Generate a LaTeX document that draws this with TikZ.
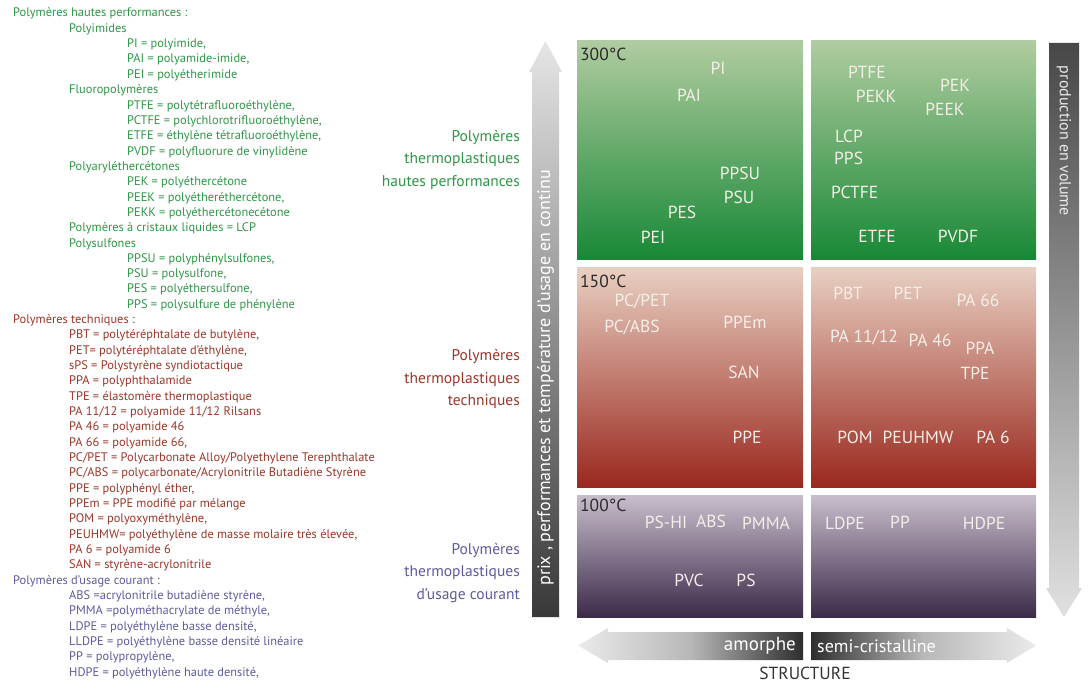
\documentclass[tikz,border=0pt]{standalone}
\usepackage{fontspec}
\setmainfont{PT Sans}
\definecolor{cg}{HTML}{2E9646}
\definecolor{cr}{HTML}{9A3628}
\definecolor{cp}{HTML}{5C5A9E}
\definecolor{gtop}{HTML}{B0CCA0}
\definecolor{gbot}{HTML}{188836}
\definecolor{rtop}{HTML}{E8D0C2}
\definecolor{rbot}{HTML}{9A281E}
\definecolor{ptop}{HTML}{C8BECB}
\definecolor{pbot}{HTML}{3C2A4A}
\definecolor{lab}{HTML}{F4EEE8}
\definecolor{tmp}{HTML}{2A2A2A}
\tikzset{
  lst/.style={anchor=west, inner sep=0pt, text height=9pt, text depth=3pt, font=\fontsize{12.4}{14}\selectfont},
  grp/.style={anchor=east, inner sep=0pt, align=right, font=\fontsize{15.5}{22.5}\selectfont},
  lbl/.style={inner sep=0pt, text=lab, font=\fontsize{17.5}{19}\selectfont},
  temp/.style={anchor=west, inner sep=0pt, text=tmp, font=\fontsize{17.5}{19}\selectfont},
  axtxt/.style={inner sep=0pt, font=\fontsize{18}{20}\selectfont},
}
\begin{document}
\begin{tikzpicture}[x=1pt,y=-1pt]
\useasboundingbox (0,0) rectangle (1089,685);
% ---- boxes
\shade[top color=gtop,bottom color=gbot] (577,41) rectangle (803,259);
\shade[top color=gtop,bottom color=gbot] (811,41) rectangle (1036,259);
\shade[top color=rtop,bottom color=rbot] (577,267) rectangle (803,487);
\shade[top color=rtop,bottom color=rbot] (811,267) rectangle (1036,487);
\shade[top color=ptop,bottom color=pbot] (577,495) rectangle (803,617);
\shade[top color=ptop,bottom color=pbot] (811,495) rectangle (1036,617);
% ---- arrows
\shade[top color=black!10,bottom color=black!78] (532,617) -- (532,72) -- (529,72) -- (545.5,41) -- (562,72) -- (559,72) -- (559,617) -- cycle;
\shade[top color=black!72,bottom color=black!12] (1049,43) -- (1079,43) -- (1079,588) -- (1082,588) -- (1064,617) -- (1046,588) -- (1049,588) -- cycle;
\shade[left color=black!8,right color=black!82,middle color=black!28] (803,632) -- (608,632) -- (608,628) -- (578,645.5) -- (608,663) -- (608,660) -- (803,660) -- cycle;
\shade[left color=black!82,right color=black!8,middle color=black!28] (811,632) -- (1007,632) -- (1007,628) -- (1036,645.5) -- (1007,663) -- (1007,660) -- (811,660) -- cycle;
% ---- axis texts
\node[axtxt, rotate=90, text=white] (axprix) at (545.5,378) {prix , performances et température d’usage en continu};
\node[axtxt, rotate=-90, text=black!8, font=\fontsize{16}{18}\selectfont] (axprod) at (1064,141) {production en volume};
\node[axtxt, anchor=east, text=white, font=\fontsize{19}{20}\selectfont] (amor) at (796,646) {amorphe};
\node[axtxt, anchor=west, text=white] (semi) at (817,646) {semi-cristalline};
\node[axtxt, text=black!80, font=\fontsize{17.5}{19}\selectfont] (struct) at (805,673) {STRUCTURE};
% ---- group labels
\node[grp, text=cg] (ghp) at (520,159.5) {Polymères\\thermoplastiques\\hautes performances};
\node[grp, text=cr] (gtech) at (520,379) {Polymères\\thermoplastiques\\techniques};
\node[grp, text=cp] (gcour) at (520,573) {Polymères\\thermoplastiques\\d’usage courant};
% ---- temperatures
\node[temp] (t300) at (580,54) {300°C};
\node[temp] (t150) at (580,281) {150°C};
\node[temp] (t100) at (580,505) {100°C};
% ---- top-left
\node[lbl] (bPI) at (718,68) {PI};
\node[lbl] (bPAI) at (689,95) {PAI};
\node[lbl] (bPPSU) at (740,173) {PPSU};
\node[lbl] (bPSU) at (739,197) {PSU};
\node[lbl] (bPES) at (682,212) {PES};
\node[lbl] (bPEI) at (653,237) {PEI};
% ---- top-right
\node[lbl] (bPTFE) at (867,72) {PTFE};
\node[lbl] (bPEKK) at (876,96) {PEKK};
\node[lbl] (bPEK) at (955,85) {PEK};
\node[lbl] (bPEEK) at (945,109) {PEEK};
\node[lbl, anchor=west] (bLCP) at (835,136) {LCP};
\node[lbl, anchor=west] (bPPS) at (834,158) {PPS};
\node[lbl, anchor=west] (bPCTFE) at (831,192) {PCTFE};
\node[lbl] (bETFE) at (877,236) {ETFE};
\node[lbl] (bPVDF) at (958,236) {PVDF};
% ---- middle-left
\node[lbl] (bPCPET) at (642,301) {PC/PET};
\node[lbl] (bPCABS) at (632,327) {PC/ABS};
\node[lbl] (bPPEm) at (745,322) {PPEm};
\node[lbl] (bSAN) at (744,372) {SAN};
\node[lbl] (bPPE) at (747,437) {PPE};
% ---- middle-right
\node[lbl] (bPBT) at (848,293) {PBT};
\node[lbl] (bPET) at (908,293) {PET};
\node[lbl] (bPA66) at (978,300) {PA 66};
\node[lbl] (bPA1112) at (864,337) {PA 11/12};
\node[lbl] (bPA46) at (930,340) {PA 46};
\node[lbl] (bPPA) at (980,348) {PPA};
\node[lbl] (bTPE) at (975,373) {TPE};
\node[lbl] (bPOM) at (855,437) {POM};
\node[lbl] (bPEUHMW) at (918,437) {PEUHMW};
\node[lbl] (bPA6) at (993,437) {PA 6};
% ---- bottom-left
\node[lbl] (bPSHI) at (666,522) {PS-HI};
\node[lbl] (bABS) at (711,521) {ABS};
\node[lbl] (bPMMA) at (766,523) {PMMA};
\node[lbl] (bPVC) at (689,580) {PVC};
\node[lbl] (bPS) at (746,580) {PS};
% ---- bottom-right
\node[lbl] (bLDPE) at (845,523) {LDPE};
\node[lbl] (bPP) at (900,522) {PP};
\node[lbl] (bHDPE) at (984,523) {HDPE};
% ---- legend list
\node[lst, text=cg] (l0) at (13,14.0) {Polymères hautes performances :};
\node[lst, text=cg] (l1) at (69,29.3) {Polyimides};
\node[lst, text=cg] (l2) at (127,44.7) {PI = polyimide,};
\node[lst, text=cg] (l3) at (127,60.0) {PAI = polyamide-imide,};
\node[lst, text=cg] (l4) at (127,75.3) {PEI = polyétherimide};
\node[lst, text=cg] (l5) at (69,90.7) {Fluoropolymères};
\node[lst, text=cg] (l6) at (127,106.0) {PTFE = polytétrafluoroéthylène,};
\node[lst, text=cg] (l7) at (127,121.3) {PCTFE = polychlorotrifluoroéthylène,};
\node[lst, text=cg] (l8) at (127,136.6) {ETFE = éthylène tétrafluoroéthylène,};
\node[lst, text=cg] (l9) at (127,152.0) {PVDF = polyfluorure de vinylidène};
\node[lst, text=cg] (l10) at (69,167.3) {Polyaryléthercétones};
\node[lst, text=cg] (l11) at (127,182.6) {PEK = polyéthercétone};
\node[lst, text=cg] (l12) at (127,198.0) {PEEK = polyétheréthercétone,};
\node[lst, text=cg] (l13) at (127,213.3) {PEKK = polyéthercétonecétone};
\node[lst, text=cg] (l14) at (69,228.6) {Polymères à cristaux liquides = LCP};
\node[lst, text=cg] (l15) at (69,244.0) {Polysulfones};
\node[lst, text=cg] (l16) at (127,259.3) {PPSU = polyphénylsulfones,};
\node[lst, text=cg] (l17) at (127,274.6) {PSU = polysulfone,};
\node[lst, text=cg] (l18) at (127,289.9) {PES = polyéthersulfone,};
\node[lst, text=cg] (l19) at (127,305.3) {PPS = polysulfure de phénylène};
\node[lst, text=cr] (l20) at (13,320.6) {Polymères techniques :};
\node[lst, text=cr] (l21) at (69,335.9) {PBT = polytéréphtalate de butylène,};
\node[lst, text=cr] (l22) at (69,351.3) {PET= polytéréphtalate d’éthylène,};
\node[lst, text=cr] (l23) at (69,366.6) {sPS = Polystyrène syndiotactique};
\node[lst, text=cr] (l24) at (69,381.9) {PPA = polyphthalamide};
\node[lst, text=cr] (l25) at (69,397.3) {TPE = élastomère thermoplastique};
\node[lst, text=cr] (l26) at (69,412.6) {PA 11/12 = polyamide 11/12 Rilsans};
\node[lst, text=cr] (l27) at (69,427.9) {PA 46 = polyamide 46};
\node[lst, text=cr] (l28) at (69,443.2) {PA 66 = polyamide 66,};
\node[lst, text=cr] (l29) at (69,458.6) {PC/PET = Polycarbonate Alloy/Polyethylene Terephthalate};
\node[lst, text=cr] (l30) at (69,473.9) {PC/ABS = polycarbonate/Acrylonitrile Butadiène Styrène};
\node[lst, text=cr] (l31) at (69,489.2) {PPE = polyphényl éther,};
\node[lst, text=cr] (l32) at (69,504.6) {PPEm = PPE modifié par mélange};
\node[lst, text=cr] (l33) at (69,519.9) {POM = polyoxyméthylène,};
\node[lst, text=cr] (l34) at (69,535.2) {PEUHMW= polyéthylène de masse molaire très élevée,};
\node[lst, text=cr] (l35) at (69,550.6) {PA 6 = polyamide 6};
\node[lst, text=cr] (l36) at (69,565.9) {SAN = styrène-acrylonitrile};
\node[lst, text=cp] (l37) at (13,581.2) {Polymères d’usage courant :};
\node[lst, text=cp] (l38) at (69,596.5) {ABS =acrylonitrile butadiène styrène,};
\node[lst, text=cp] (l39) at (69,611.9) {PMMA =polyméthacrylate de méthyle,};
\node[lst, text=cp] (l40) at (69,627.2) {LDPE = polyéthylène basse densité,};
\node[lst, text=cp] (l41) at (69,642.5) {LLDPE = polyéthylène basse densité linéaire};
\node[lst, text=cp] (l42) at (69,657.9) {PP = polypropylène,};
\node[lst, text=cp] (l43) at (69,673.2) {HDPE = polyéthylène haute densité,};
\end{tikzpicture}
\end{document}
